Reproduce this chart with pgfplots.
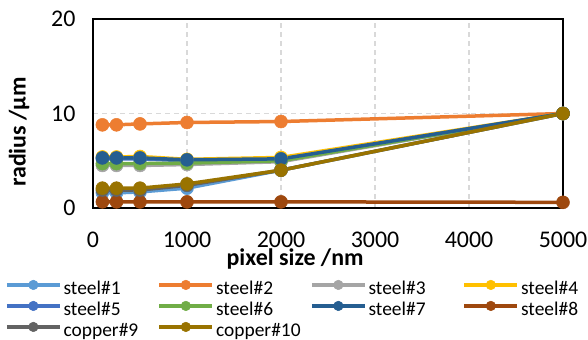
\documentclass[border=0pt]{standalone}
\usepackage{fontspec}
\setmainfont{Carlito}
\usepackage{pgfplots}
\pgfplotsset{compat=1.18}
\definecolor{c1}{HTML}{5B9BD5}
\definecolor{c2}{HTML}{ED7D31}
\definecolor{c3}{HTML}{A5A5A5}
\definecolor{c4}{HTML}{FFC000}
\definecolor{c5}{HTML}{4472C4}
\definecolor{c6}{HTML}{70AD47}
\definecolor{c7}{HTML}{255E91}
\definecolor{c8}{HTML}{9E480E}
\definecolor{c9}{HTML}{636363}
\definecolor{c10}{HTML}{997300}
\definecolor{gridc}{HTML}{D9D9D9}
\begin{document}
\begin{tikzpicture}
\begin{axis}[
  at={(93bp,132bp)}, anchor=south west,
  scale only axis, width=470bp, height=189bp,
  xmin=0, xmax=5000, ymin=0, ymax=20,
  xtick={0,1000,2000,3000,4000,5000},
  ytick={0,10,20},
  scaled x ticks=false,
  /pgf/number format/assume math mode=true,
  /pgf/number format/1000 sep={},
  major tick length=0pt,
  xmajorgrids, ymajorgrids,
  grid style={gridc, line width=1.2bp, dash pattern=on 5bp off 4bp},
  axis line style={black, line width=1.6bp},
  clip=false,
  tick label style={font=\fontsize{24}{28}\selectfont},
  xticklabel style={anchor=base, inner sep=0pt, yshift=-39bp},
  yticklabel style={anchor=east, xshift=-14bp},
  xlabel={\textbf{pixel size /nm}},
  ylabel={\textbf{radius /µm}},
  label style={font=\fontsize{24}{28}\selectfont},
  xlabel style={at={(axis description cs:0.430,-0.302)}, anchor=base, inner sep=0pt},
  ylabel style={at={(axis description cs:-0.157,0.402)}, anchor=center},
  every axis plot/.append style={line width=3.5bp, mark=*, mark size=6.5bp, mark options={solid, line width=0.5bp}},
  legend image code/.code={\draw[mark repeat=2,mark phase=2,#1,mark size=4.8bp] plot coordinates {(0bp,5bp)(26.5bp,5bp)(53bp,5bp)};},
  legend columns=4,
  legend cell align=left,
  legend style={at={(axis description cs:-0.187,-0.378)}, anchor=north west, draw=none, fill=none,
    inner sep=0pt, outer sep=0pt, row sep=0pt, column sep=0pt,
    font=\fontsize{19.5}{22}\selectfont,
    nodes={inner sep=2bp, text width=92bp, align=left, text height=13bp, text depth=4bp}},
]
\addplot[c1] coordinates {(100,1.6)(250,1.6)(500,1.7)(1000,2.1)(2000,4.0)(5000,10)};
\addlegendentry{steel\#1}
\addplot[c2] coordinates {(100,8.8)(250,8.8)(500,8.9)(1000,9.05)(2000,9.15)(5000,10)};
\addlegendentry{steel\#2}
\addplot[c3] coordinates {(100,4.5)(250,4.5)(500,4.5)(1000,4.6)(2000,4.9)(5000,10)};
\addlegendentry{steel\#3}
\addplot[c4] coordinates {(100,5.4)(250,5.4)(500,5.45)(1000,5.15)(2000,5.35)(5000,10)};
\addlegendentry{steel\#4}
\addplot[c5] coordinates {(100,5.2)(250,5.2)(500,5.2)(1000,5.0)(2000,5.1)(5000,10)};
\addlegendentry{steel\#5}
\addplot[c6] coordinates {(100,4.7)(250,4.7)(500,4.7)(1000,4.75)(2000,5.0)(5000,10)};
\addlegendentry{steel\#6}
\addplot[c7] coordinates {(100,5.3)(250,5.3)(500,5.3)(1000,5.1)(2000,5.2)(5000,10)};
\addlegendentry{steel\#7}
\addplot[c8] coordinates {(100,0.65)(250,0.65)(500,0.65)(1000,0.65)(2000,0.65)(5000,0.6)};
\addlegendentry{steel\#8}
\addplot[c9] coordinates {(100,1.9)(250,1.9)(500,1.9)(1000,2.4)(2000,4.0)(5000,10)};
\addlegendentry{copper\#9}
\addplot[c10] coordinates {(100,2.1)(250,2.1)(500,2.1)(1000,2.55)(2000,4.0)(5000,10)};
\addlegendentry{copper\#10}
\end{axis}
\pgfresetboundingbox
\path[use as bounding box] (0,0) rectangle (588bp,340bp);
\end{tikzpicture}
\end{document}
